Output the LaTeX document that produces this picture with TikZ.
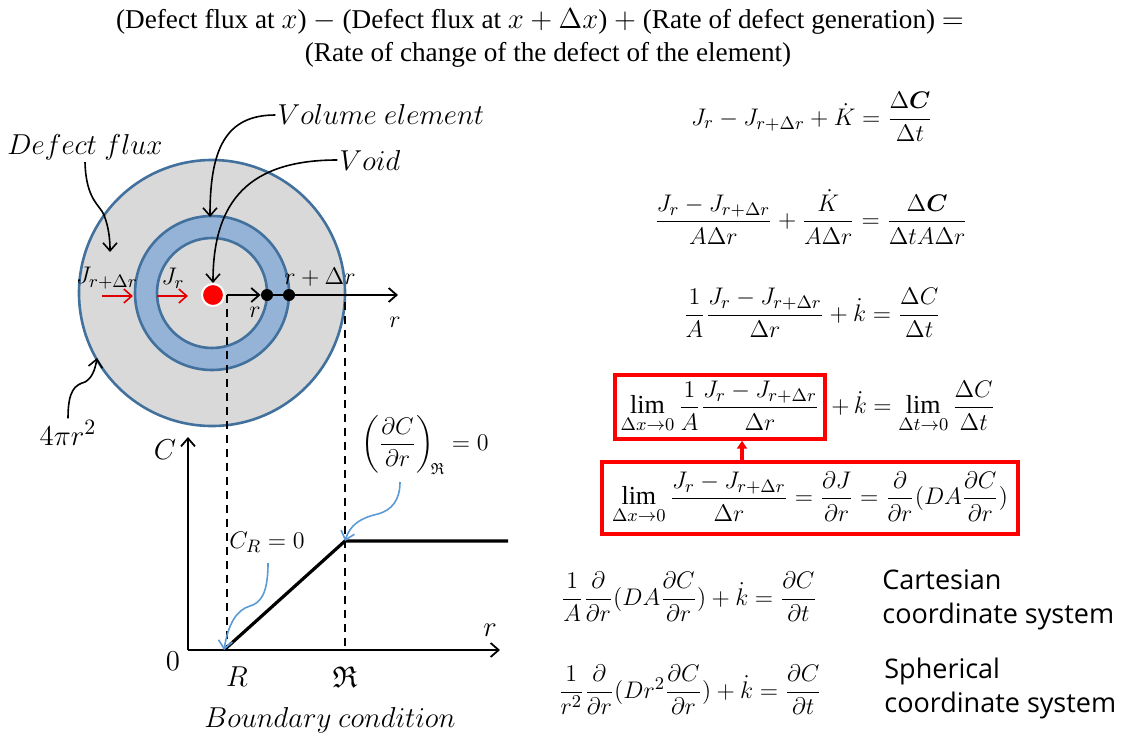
\documentclass[tikz,border=0pt]{standalone}
\usepackage{amsmath,amssymb}
\usepackage{fontspec}
\setmainfont{Liberation Serif}
\newfontfamily\sysfont{Open Sans}
\usetikzlibrary{arrows.meta,positioning,calc}
\definecolor{ringline}{HTML}{41719C}
\definecolor{ringfill}{HTML}{95B3D7}
\definecolor{shellfill}{HTML}{D9D9D9}
\definecolor{hintblue}{HTML}{5B9BD5}
\definecolor{boxred}{HTML}{FF0000}
\definecolor{fluxred}{HTML}{E00000}
\tikzset{
  callout/.style={-{Straight Barb[length=4pt,width=7pt]}, line width=0.8pt},
  hint/.style={-{Straight Barb[length=4pt,width=7pt]}, line width=0.8pt, hintblue},
  flux/.style={-{Straight Barb[length=4pt,width=7pt]}, line width=0.8pt, fluxred},
  axis/.style={-{Straight Barb[length=4pt,width=7pt]}, line width=0.9pt},
  guide/.style={line width=0.9pt, dash pattern=on 4pt off 3pt},
  shell/.style={fill=shellfill, draw=ringline, line width=1.3pt},
  headline/.style={font=\fontsize{13.6}{16}\selectfont, inner sep=1pt},
  tag/.style={font=\fontsize{13}{16}\selectfont, inner sep=1pt},
  calltag/.style={font=\fontsize{15}{18}\selectfont, inner sep=1pt},
  eqn/.style={font=\fontsize{13}{16}\selectfont, inner sep=1pt},
  syslbl/.style={font=\sysfont\fontsize{13.5}{17}\selectfont, align=left, anchor=west, inner sep=1pt},
  limbox/.style={draw=boxred, line width=1.8pt, inner sep=3pt},
  dot/.style={circle, fill=black, inner sep=0pt, minimum size=6pt}
}

\begin{document}
\begin{tikzpicture}[x=0.5pt, y=-0.5pt]
  \useasboundingbox (0,0) rectangle (1124,738);
  % balance statement
  \node[headline] (head1) at (540,22) {(Defect flux at $x$) $-$ (Defect flux at $x+\Delta x$) $+$ (Rate of defect generation) $=$};
  \node[headline] (head2) at (548,55) {(Rate of change of the defect of the element)};

  % spherical shell around the void
  \coordinate (o) at (212,293);
  \filldraw[shell] (o) circle (133);
  \filldraw[shell, fill=ringfill] (o) circle (77);
  \filldraw[shell] (o) circle (55);
  \node[circle, fill=red, draw=white, line width=1pt, minimum size=11pt, inner sep=0pt] (void) at (213,295) {};

  % radial axis
  \coordinate (r0) at (227,295);
  \node[dot] (pr) at (267,295) {};
  \node[dot] (pdr) at (289,295) {};
  \coordinate (rtip) at (398,295);
  \draw[axis] (r0) -- (pr.west);
  \draw[line width=0.9pt] (pr) -- (pdr);
  \draw[axis] (pdr) -- (rtip);
  \node[tag] (lr) at (255,312) {$r$};
  \node[tag] (lrdr) at (320,277) {$r+\Delta r$};
  \node[tag] (lraxis) at (395,322) {$r$};

  % fluxes
  \node[tag] (jout) at (107,278) {$J_{r+\Delta r}$};
  \node[tag] (jin) at (173,278) {$J_r$};
  \coordinate (f1a) at (102,296); \coordinate (f1b) at (133,296);
  \coordinate (f2a) at (157,296); \coordinate (f2b) at (188,296);
  \draw[flux] (f1a) -- (f1b);
  \draw[flux] (f2a) -- (f2b);

  % callouts
  \node[calltag] (lflux) at (85,147) {$Defect\ flux$};
  \node[calltag] (lvol) at (381,115) {$Volume\ element$};
  \node[calltag] (lvoid) at (370,160) {$Void$};
  \node[calltag] (larea) at (68,433) {$4\pi r^2$};
  \coordinate (tflux) at (110,252);
  \coordinate (tvol) at (210,217);
  \coordinate (tarea) at (97,358);
  \draw[callout] (lflux.south) .. controls (86,200) and (100,205) .. (104,215) .. controls (109,228) and (110,240) .. (tflux);
  \draw[callout] (lvol.west) .. controls (225,115) and (210,150) .. (tvol);
  \draw[callout] (lvoid.west) .. controls (250,160) and (213,200) .. (void.north);
  \draw[callout] (larea.north) .. controls (68,390) and (75,385) .. (85,382) .. controls (92,378) and (95,370) .. (tarea);

  % concentration profile
  \coordinate (org) at (188,650);
  \coordinate (ctip) at (188,437);
  \coordinate (xtip) at (500,650);
  \coordinate (cR) at (224,650);
  \coordinate (cK) at (345,541);
  \coordinate (cend) at (508,541);
  \draw[axis] (org) -- (ctip);
  \draw[axis] (org) -- (xtip);
  \draw[guide] (r0) -- (227,650);
  \draw[guide] (345,302) -- (345,650);
  \draw[line width=1.6pt] (cR) -- (cK) -- (cend);
  \node[calltag] (lC) at (165,450) {$C$};
  \node[calltag] (l0) at (173,661) {$0$};
  \node[calltag] (lR) at (237,677) {$R$};
  \node[calltag] (lK) at (345,677) {$\mathfrak{R}$};
  \node[calltag] (lraxis2) at (490,630) {$r$};
  \node[tag] (lcr) at (267,542) {$C_R = 0$};
  \node[tag, font=\fontsize{12}{14}\selectfont] (lgrad) at (425,445) {$\left(\dfrac{\partial C}{\partial r}\right)_{\!\mathfrak{R}} = 0$};
  \draw[hint] (268,563) .. controls (268,595) and (260,603) .. (250,606) .. controls (236,610) and (228,625) .. (cR);
  \draw[hint] (400,482) .. controls (400,500) and (392,510) .. (378,514) .. controls (360,518) and (350,525) .. (cK);
  \node[calltag, font=\fontsize{14.2}{18}\selectfont] (lbc) at (330,720) {$Boundary\ condition$};

  % balance equations
  \node[eqn] (eq1) at (812,117) {$J_r - J_{r+\Delta r} + \dot K = \dfrac{\Delta\boldsymbol{C}}{\Delta t}$};
  \node[eqn] (eq2) at (811,217) {$\dfrac{J_r - J_{r+\Delta r}}{A\Delta r} + \dfrac{\dot K}{A\Delta r} = \dfrac{\Delta\boldsymbol{C}}{\Delta t A\Delta r}$};
  \node[eqn] (eq3) at (812,313) {$\dfrac{1}{A}\dfrac{J_r - J_{r+\Delta r}}{\Delta r} + \dot k = \dfrac{\Delta C}{\Delta t}$};
  \node[eqn, limbox] (limA) at (720,407) {$\displaystyle\lim_{\Delta x\to 0}\frac{1}{A}\frac{J_r - J_{r+\Delta r}}{\Delta r}$};
  \node[eqn, right=1pt of limA] (limrest) {$\displaystyle +\,\dot k = \lim_{\Delta t\to 0}\frac{\Delta C}{\Delta t}$};
  \node[eqn, limbox, inner sep=5pt] (limB) at (810,498) {$\displaystyle\lim_{\Delta x\to 0}\frac{J_r - J_{r+\Delta r}}{\Delta r} = \frac{\partial J}{\partial r} = \frac{\partial}{\partial r}(DA\frac{\partial C}{\partial r})$};
  \coordinate (upx) at (742,0);
  \draw[-{Triangle[length=4pt,width=5pt]}, boxred, line width=1.8pt] (limB.north -| upx) -- (limA.south -| upx);
  \node[eqn] (cart) at (689,597) {$\dfrac{1}{A}\dfrac{\partial}{\partial r}(DA\dfrac{\partial C}{\partial r}) + \dot k = \dfrac{\partial C}{\partial t}$};
  \node[syslbl] (lcart) at (880,600) {Cartesian\\coordinate system};
  \node[eqn] (sph) at (690,690) {$\dfrac{1}{r^2}\dfrac{\partial}{\partial r}(Dr^2\dfrac{\partial C}{\partial r}) + \dot k = \dfrac{\partial C}{\partial t}$};
  \node[syslbl] (lsph) at (882,688) {Spherical\\coordinate system};
\end{tikzpicture}
\end{document}
